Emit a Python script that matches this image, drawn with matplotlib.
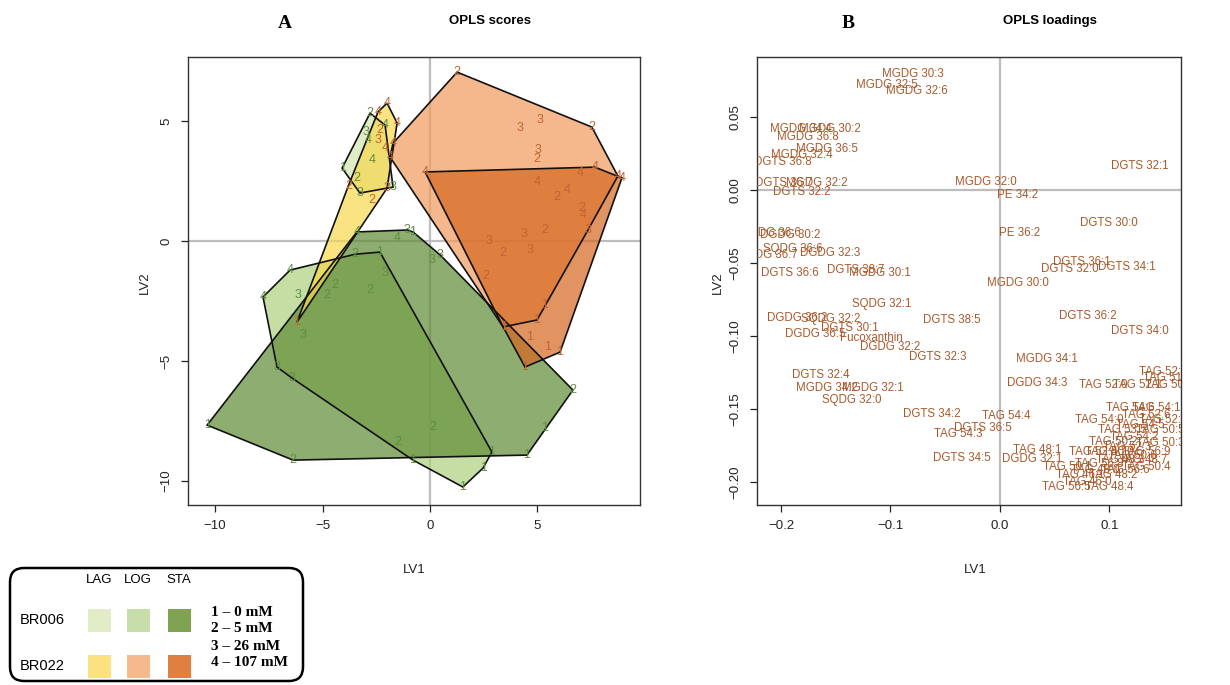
import matplotlib
matplotlib.use("Agg")
import matplotlib.pyplot as plt
from matplotlib.patches import Polygon, FancyBboxPatch, Rectangle

plt.rcParams['font.family'] = ['Liberation Sans', 'DejaVu Sans']

W, H = 1230, 685

# ---- panel A: OPLS scores, (LV1, LV2, concentration code) per group
br006_lag = [(-2.79, 5.33, '2'), (-4.09, 3.04, '1'), (-3.26, 2.00, '3'), (-1.72, 2.25, '3'),
             (-2.09, 4.83, '4'), (-2.88, 4.21, '4'), (-2.70, 3.38, '4'), (-3.40, 2.63, '2'),
             (-3.00, 4.55, '3')]
br006_log = [(-6.51, -1.21, '4'), (-7.77, -2.33, '4'), (-7.12, -5.25, '3'), (-6.42, -5.71, '3'),
             (-0.79, -9.13, '1'), (1.53, -10.25, '1'), (2.88, -8.79, '1'), (-2.33, -0.46, '1'),
             (-3.49, -0.55, '2'), (-6.14, -2.25, '3'), (-4.79, -2.25, '2'), (-4.42, -1.83, '2'),
             (-2.79, -2.04, '2'), (-2.09, -1.33, '3'), (-5.91, -3.92, '3'), (2.47, -9.46, '1'),
             (-1.49, -8.38, '2')]
br006_sta = [(-10.37, -7.67, '1'), (-6.37, -9.13, '2'), (4.51, -8.92, '1'), (6.65, -6.21, '2'),
             (5.35, -7.79, '1'), (0.47, -0.58, '3'), (-0.79, 0.38, '1'), (-3.40, 0.38, '4'),
             (-1.53, 0.13, '4'), (-1.07, 0.46, '3'), (0.14, -7.75, '2'), (0.09, -0.79, '3')]
br022_lag = [(-2.00, 5.75, '4'), (-1.53, 4.92, '4'), (-2.00, 2.20, '3'), (-2.70, 1.70, '2'),
             (-6.19, -3.38, '1'), (-2.42, 5.38, '4'), (-3.80, 2.30, '2'), (-2.33, 4.63, '2'),
             (-2.09, 3.88, '4'), (-2.42, 4.21, '3')]
br022_log = [(1.26, 7.04, '2'), (7.53, 4.75, '2'), (8.74, 2.71, '4'), (7.35, 0.46, '3'),
             (5.35, -2.67, '1'), (4.98, -3.29, '1'), (3.40, -3.58, '1'), (-1.86, 3.50, '4'),
             (-1.72, 4.08, '4'), (4.19, 4.71, '3'), (5.12, 5.04, '3'), (5.02, 3.79, '3'),
             (4.98, 3.42, '2'), (6.98, 2.83, '4')]
br022_sta = [(-0.23, 2.88, '4'), (8.93, 2.63, '4'), (6.05, -4.63, '1'), (4.42, -5.25, '1'),
             (3.40, -3.58, '1'), (4.98, 2.46, '4'), (5.91, 1.83, '2'), (6.37, 2.13, '4'),
             (7.07, 1.38, '2'), (7.12, 1.08, '4'), (2.74, 0.00, '3'), (4.37, 0.29, '3'),
             (5.35, 0.46, '2'), (3.40, -0.50, '2'), (4.65, -0.38, '3'), (2.60, -1.46, '2'),
             (4.65, -4.00, '1'), (5.49, -4.42, '1'), (7.67, 3.08, '4')]

# polygon fills (drawn semi-transparent) and legend swatch colours
green_fill = {'LAG': '#D4E5B0', 'LOG': '#ACD07E', 'STA': '#5F8A33'}
orange_fill = {'LAG': '#F8D84C', 'LOG': '#F19B5B', 'STA': '#D5661F'}
green_key = {'LAG': '#E2EDC8', 'LOG': '#C7DEA8', 'STA': '#7FA352'}
orange_key = {'LAG': '#FBE17F', 'LOG': '#F6B98C', 'STA': '#E08040'}

# ---- panel B: OPLS loadings
load_names = ['MGDG 30:3', 'MGDG 32:5', 'MGDG 32:6', 'MGDG 34:4', 'MGDG 30:2', 'MGDG 36:8',
              'MGDG 36:5', 'MGDG 32:4', 'DGTS 36:8', 'DGTS 36:7', 'MGDG 32:2', 'DGTS 32:2',
              'MGDG 32:0', 'PE 34:2', 'DGTS 32:1', 'DGTS 30:0', 'PE 36:2', 'DGTS 36:1',
              'DGTS 32:0', 'DGTS 34:1', 'MGDG 30:0', 'DGTS 36:2', 'DGTS 34:0', 'MGDG 34:1',
              'DGDG 34:3', 'TAG 52:0', 'TAG 52:1', 'TAG 50:7', 'TAG 52:2', 'TAG 51:5',
              'MGDG 36:6', 'DGDG 30:2', 'SQDG 36:6', 'MGDG 36:7', 'DGDG 32:3', 'DGTS 36:6',
              'DGTS 38:7', 'MGDG 30:1', 'SQDG 32:1', 'DGDG 36:2', 'SQDG 32:2', 'DGTS 30:1',
              'DGDG 36:5', 'Fucoxanthin', 'DGDG 32:2', 'DGTS 32:3', 'DGTS 38:5', 'DGTS 32:4',
              'MGDG 34:2', 'MGDG 32:1', 'SQDG 32:0', 'DGTS 34:2', 'TAG 54:4', 'DGTS 36:5',
              'TAG 54:3', 'TAG 48:1', 'DGTS 34:5', 'DGDG 32:1', 'TAG 56:5', 'TAG 48:4',
              'TAG 54:6', 'TAG 54:1', 'TAG 54:0', 'TAG 52:5', 'TAG 53:5', 'TAG 50:5',
              'TAG 50:2', 'TAG 50:3', 'TAG 52:4', 'TAG 56:9', 'TAG 48:7', 'TAG 50:1',
              'TAG 50:4', 'TAG 46:1', 'TAG 48:2', 'TAG 48:3', 'TAG 50:0', 'TAG 52:3',
              'TAG 54:2', 'TAG 56:8', 'TAG 52:6', 'TAG 54:5', 'TAG 56:6', 'TAG 46:0',
              'TAG 48:0', 'TAG 50:6']
load_x = [-0.080, -0.103, -0.076, -0.182, -0.155, -0.175, -0.158, -0.181, -0.198, -0.197,
          -0.167, -0.181, -0.013, 0.016, 0.128, 0.099, 0.018, 0.075, 0.064, 0.116,
          0.016, 0.080, 0.128, 0.043, 0.034, 0.094, 0.125, 0.155, 0.149, 0.153,
          -0.210, -0.192, -0.189, -0.213, -0.155, -0.192, -0.132, -0.110, -0.108, -0.185,
          -0.155, -0.137, -0.169, -0.117, -0.100, -0.057, -0.044, -0.164, -0.158, -0.116,
          -0.135, -0.062, 0.006, -0.016, -0.038, 0.034, -0.035, 0.029, 0.061, 0.100,
          0.119, 0.143, 0.091, 0.149, 0.112, 0.146, 0.103, 0.146, 0.085, 0.134,
          0.131, 0.061, 0.134, 0.073, 0.103, 0.110, 0.100, 0.116, 0.123, 0.091,
          0.134, 0.128, 0.114, 0.080, 0.087, 0.121]
load_y = [0.0795, 0.0719, 0.0678, 0.0418, 0.0418, 0.0363, 0.0281, 0.0240, 0.0192, 0.0048,
          0.0048, -0.0014, 0.0055, -0.0034, 0.0164, -0.0226, -0.0295, -0.0493, -0.0541, -0.0527,
          -0.0637, -0.0863, -0.0966, -0.1160, -0.1320, -0.1336, -0.1336, -0.1336, -0.1247, -0.1288,
          -0.0295, -0.0308, -0.0404, -0.0445, -0.0432, -0.0568, -0.0548, -0.0568, -0.0781, -0.0877,
          -0.0884, -0.0945, -0.0986, -0.1014, -0.1075, -0.1144, -0.0890, -0.1267, -0.1356, -0.1356,
          -0.1438, -0.1534, -0.1548, -0.1630, -0.1671, -0.1780, -0.1836, -0.1842, -0.2034, -0.2034,
          -0.1493, -0.1493, -0.1575, -0.1575, -0.1644, -0.1644, -0.1726, -0.1733, -0.1795, -0.1795,
          -0.1850, -0.1900, -0.1900, -0.1950, -0.1950, -0.1850, -0.1795, -0.1760, -0.1690, -0.1880,
          -0.1540, -0.1610, -0.1920, -0.2000, -0.1920, -0.1820]

# legend content
phases = ['LAG', 'LOG', 'STA']
strains = ['BR006', 'BR022']
conc_text = ['1 \u2013 0 mM', '2 \u2013 5 mM', '3 \u2013 26 mM', '4 \u2013 107 mM']


def hull(pts):
    pts = sorted(set(pts))

    def cross(o, a, b):
        return (a[0] - o[0]) * (b[1] - o[1]) - (a[1] - o[1]) * (b[0] - o[0])
    lower, upper = [], []
    for p in pts:
        while len(lower) >= 2 and cross(lower[-2], lower[-1], p) <= 0:
            lower.pop()
        lower.append(p)
    for p in reversed(pts):
        while len(upper) >= 2 and cross(upper[-2], upper[-1], p) <= 0:
            upper.pop()
        upper.append(p)
    return lower[:-1] + upper[:-1]


def px_axes(l, t, r, b):
    return fig.add_axes([l / W, 1 - b / H, (r - l) / W, (b - t) / H])


def style_axes(ax):
    for s in ax.spines.values():
        s.set_color('#333333')
        s.set_linewidth(1.0)
    ax.tick_params(direction='out', length=5, width=0.9, labelsize=9.5, pad=6, colors='#222222')
    for lab in ax.get_yticklabels():
        lab.set_rotation(90)
        lab.set_va('center')
    ax.axhline(0, color='#BDBDBD', lw=1.6, zorder=0)
    ax.axvline(0, color='#BDBDBD', lw=1.6, zorder=0)


fig = plt.figure(figsize=(W / 100, H / 100), dpi=100)

# overlay axes in pixel units for titles / legend
ov = fig.add_axes([0, 0, 1, 1])
ov.set_xlim(0, W)
ov.set_ylim(H, 0)
ov.axis('off')

# ---------------- panel A
axA = px_axes(188, 57, 640, 505)
axA.set_xlim(-11.26, 9.77)
axA.set_ylim(-11.0, 7.67)
axA.set_xticks([-10, -5, 0, 5])
axA.set_yticks([-10, -5, 0, 5])
style_axes(axA)

groups = [(br006_log, green_fill['LOG'], '#5E8E40'),
          (br006_sta, green_fill['STA'], '#5E8E40'),
          (br006_lag, green_fill['LAG'], '#5E8E40'),
          (br022_log, orange_fill['LOG'], '#BF6530'),
          (br022_sta, orange_fill['STA'], '#BF6530'),
          (br022_lag, orange_fill['LAG'], '#BF6530')]
for pts, fc, tc in groups:
    hv = hull([(p[0], p[1]) for p in pts])
    axA.add_patch(Polygon(hv, closed=True, facecolor=fc, edgecolor='none',
                          alpha=0.7, zorder=2))
    axA.add_patch(Polygon(hv, closed=True, facecolor='none', edgecolor='#111111',
                          lw=1.2, zorder=2.5))
    for x, y, c in pts:
        axA.text(x, y, c, ha='center', va='center', fontsize=9, color=tc, zorder=3)

# ---------------- panel B
axB = px_axes(757, 57, 1181, 505)
axB.set_xlim(-0.2219, 0.1653)
axB.set_ylim(-0.2158, 0.0911)
axB.set_xticks([-0.2, -0.1, 0.0, 0.1])
axB.set_xticklabels(['\u22120.2', '\u22120.1', '0.0', '0.1'])
axB.set_yticks([-0.20, -0.15, -0.10, -0.05, 0.0, 0.05])
axB.set_yticklabels(['\u22120.20', '\u22120.15', '\u22120.10', '\u22120.05', '0.00', '0.05'])
style_axes(axB)
for n, x, y in zip(load_names, load_x, load_y):
    axB.text(x, y, n, ha='center', va='center', fontsize=8.3, color='#A95A2C', zorder=3,
             clip_on=True)

# axis labels and titles
for x in (414, 975):
    fig.text(x / W, 1 - 570 / H, 'LV1', ha='center', va='center', fontsize=9.5, color='#222222')
for x in (145, 718):
    fig.text(x / W, 1 - 283 / H, 'LV2', ha='center', va='center', fontsize=9.5,
             rotation=90, color='#222222')
ov.text(285, 23, 'A', ha='center', va='center', fontsize=14, fontweight='bold',
        family='Liberation Serif')
ov.text(490, 21, 'OPLS scores', ha='center', va='center', fontsize=9.5, fontweight='bold')
ov.text(848, 23, 'B', ha='center', va='center', fontsize=14, fontweight='bold',
        family='Liberation Serif')
ov.text(1050, 21, 'OPLS loadings', ha='center', va='center', fontsize=9.5, fontweight='bold')

# ---------------- legend box
ov.add_patch(FancyBboxPatch((10, 568), 293, 113, boxstyle='round,pad=0,rounding_size=14',
                            facecolor='white', edgecolor='black', lw=1.8))
col_x = [99, 138, 179]
row_y = [620, 666]
for i, ph in enumerate(phases):
    ov.text(col_x[i], 580, ph, ha='center', va='center', fontsize=9.5)
for j, st in enumerate(strains):
    ov.text(42, row_y[j], st, ha='center', va='center', fontsize=10.5)
    keys = green_key if j == 0 else orange_key
    for i, ph in enumerate(phases):
        ov.add_patch(Rectangle((col_x[i] - 11.5, row_y[j] - 11.5), 23, 23,
                               facecolor=keys[ph], edgecolor='none'))
for t, y in zip(conc_text, [613, 629, 646, 662]):
    ov.text(211, y, t, ha='left', va='center', fontsize=11, fontweight='bold',
            family='Liberation Serif')

fig.savefig('out.png', dpi=100)
